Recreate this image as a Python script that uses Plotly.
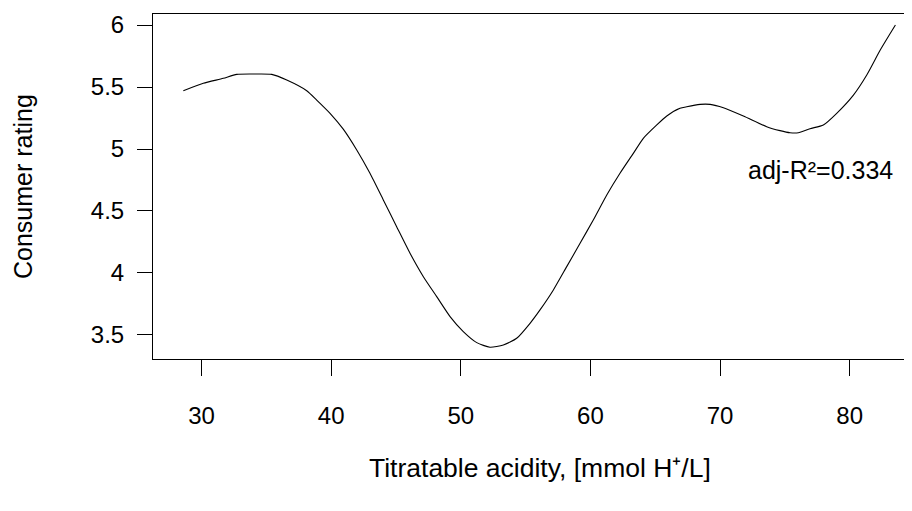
import plotly.graph_objects as go

# Smoothed curve
acidity = [28.59, 30.13, 31.67, 32.71, 34.04, 35.41, 36.57, 38.11, 38.88, 39.91,
           40.93, 41.97, 42.99, 44.02, 45.05, 46.08, 47.11, 48.14, 49.17, 50.19,
           51.23, 52.25, 53.28, 54.31, 55.34, 56.11, 57.14, 58.17, 59.20, 60.22,
           61.26, 62.28, 63.31, 64.08, 65.12, 65.89, 66.91, 67.43, 68.46, 69.23,
           70.26, 71.80, 73.60, 74.63, 75.40, 76.04, 76.94, 77.97, 79.00, 80.29,
           81.32, 82.36, 83.53]
rating = [5.470, 5.530, 5.570, 5.602, 5.605, 5.602, 5.556, 5.470, 5.395, 5.288,
          5.160, 4.992, 4.804, 4.589, 4.373, 4.159, 3.970, 3.809, 3.648, 3.527,
          3.438, 3.401, 3.419, 3.473, 3.594, 3.702, 3.863, 4.051, 4.240, 4.427,
          4.629, 4.804, 4.965, 5.086, 5.194, 5.266, 5.328, 5.341, 5.360, 5.360,
          5.333, 5.266, 5.180, 5.148, 5.131, 5.131, 5.164, 5.194, 5.288, 5.435,
          5.597, 5.798, 6.000]

x_ticks = [30, 40, 50, 60, 70, 80]
y_ticks = [3.5, 4, 4.5, 5, 5.5, 6]
y_tick_text = ["3.5", "4", "4.5", "5", "5.5", "6"]

x_title = "Titratable acidity, [mmol H\u207a/L]"
y_title = "Consumer rating"
r2_label = "adj-R\u00b2=0.334"

FONT = "Liberation Sans, Arial, sans-serif"
FS = 25

fig = go.Figure()
fig.add_trace(go.Scatter(x=acidity, y=rating, mode="lines",
                         line=dict(color="black", width=1.1, shape="spline", smoothing=0.6),
                         hoverinfo="skip", showlegend=False))

# The page body has an 8px margin, so the figure is sized to end at the window edge.
fig.update_layout(
    template="none",
    width=904, height=503,
    margin=dict(l=145, r=0, t=6, b=152, pad=0, autoexpand=False),
    paper_bgcolor="white", plot_bgcolor="white",
    font=dict(family=FONT, size=FS, color="black"),
    showlegend=False,
    xaxis=dict(range=[26.25, 84.81], tickvals=x_ticks, ticks="outside", ticklen=16,
               tickwidth=1, tickcolor="black", showline=True, linecolor="black",
               linewidth=1, mirror=True, showgrid=False, zeroline=False,
               automargin=False,
               tickfont=dict(size=24, family=FONT, color="black"),
               ticklabelstandoff=19),
    yaxis=dict(range=[3.306, 6.089], tickvals=y_ticks, ticktext=y_tick_text,
               ticks="outside", ticklen=15, tickwidth=1, tickcolor="black",
               showline=True, linecolor="black", linewidth=1, mirror=False,
               showgrid=False, zeroline=False, automargin=False,
               tickfont=dict(size=24, family=FONT, color="black"),
               ticklabelstandoff=8),
    annotations=[
        dict(text=r2_label, x=77.72, y=4.83, xref="x", yref="y", showarrow=False,
             xanchor="center", yanchor="middle", font=dict(size=FS, family=FONT, color="black")),
        dict(text=x_title, x=(539.5 - 153) / 759, y=(359 - 468) / 345, xref="paper", yref="paper",
             showarrow=False, xanchor="center", yanchor="middle",
             font=dict(size=26.5, family=FONT, color="black")),
        dict(text=y_title, x=(22.5 - 153) / 759, y=0.5, xref="paper", yref="paper",
             showarrow=False, xanchor="center", yanchor="middle", textangle=-90,
             font=dict(size=FS, family=FONT, color="black")),
    ],
)

fig.write_html("out.html")
